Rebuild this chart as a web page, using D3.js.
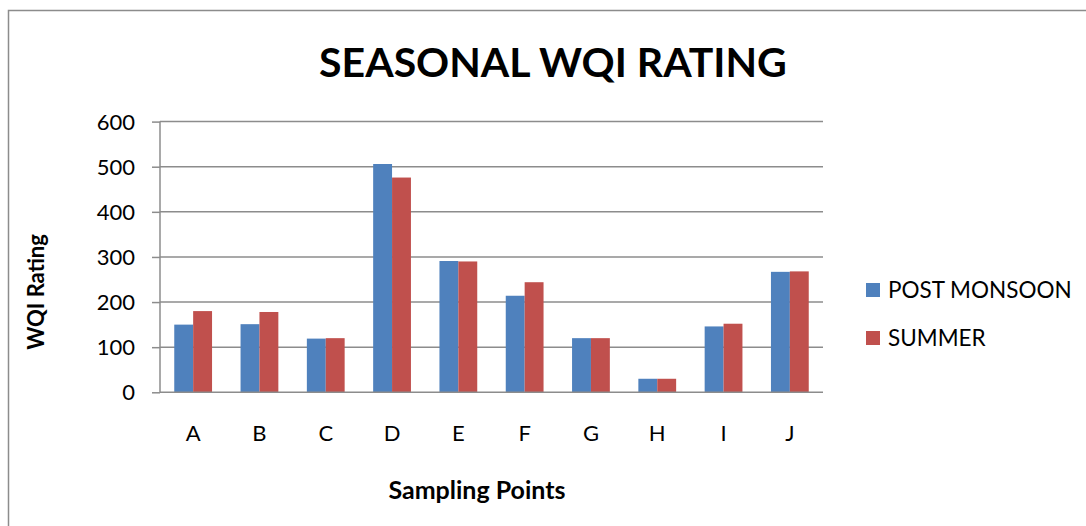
<!DOCTYPE html>
<html><head><meta charset="utf-8">
<script src="https://cdn.jsdelivr.net/npm/d3@7"></script>
<style>body{margin:0;background:#fff}svg{display:block}</style>
</head><body>
<script>
const categories = ["A","B","C","D","E","F","G","H","I","J"];
const seriesNames = ["POST MONSOON","SUMMER"];
const postMonsoon = [150,151,119,506,291,214,120,30,146,267];
const summer = [180,178,120,476,290,244,120,30,152,268];
const yTicks = [0,100,200,300,400,500,600];
const colors = ["#4F81BD","#C0504D"];

const W=1086,H=526;
const svg=d3.select("body").append("svg").attr("width",W).attr("height",H);
svg.append("rect").attr("x",8.5).attr("y",10.5).attr("width",W+10).attr("height",H+10)
  .attr("fill","#fff").attr("stroke","#8c8c8c").attr("stroke-width",1.5);

const font="Lato, 'Open Sans', sans-serif";
const x0=160,x1=823,yTop=121.6,yBot=392.3;
const x=d3.scaleBand().domain(categories).range([x0,x1]).paddingInner(0.43).paddingOuter(0.215);
const xs=d3.scaleBand().domain(seriesNames).range([0,x.bandwidth()]);
const y=d3.scaleLinear().domain([0,600]).range([yBot,yTop]);

// gridlines
svg.append("g").selectAll("line").data(yTicks.slice(1)).join("line")
  .attr("x1",x0).attr("x2",x1).attr("y1",d=>y(d)).attr("y2",d=>y(d))
  .attr("stroke","#8c8c8c").attr("stroke-width",1.5);

const data=[postMonsoon,summer];
seriesNames.forEach((s,i)=>{
  svg.append("g").selectAll("rect").data(categories).join("rect")
    .attr("x",c=>x(c)+xs(s)).attr("width",xs.bandwidth())
    .attr("y",(c,j)=>y(data[i][j])).attr("height",(c,j)=>y(0)-y(data[i][j]))
    .attr("fill",colors[i]);
});

// y axis
const ya=svg.append("g").attr("transform",`translate(${x0},0)`)
  .call(d3.axisLeft(y).tickValues(yTicks).tickSize(8).tickPadding(17));
ya.select(".domain").attr("stroke","#8c8c8c").attr("stroke-width",1.5).attr("d",`M0,${yTop}V${yBot}`);
ya.selectAll(".tick line").attr("stroke","#8c8c8c").attr("stroke-width",1.5);
ya.selectAll(".tick text").attr("font-family",font).attr("font-size",22).attr("fill","#000").attr("dy","0.34em");

// x axis
const xa=svg.append("g").attr("transform",`translate(0,${yBot})`)
  .call(d3.axisBottom(x).tickSize(0).tickPadding(33));
xa.select(".domain").attr("stroke","#8c8c8c").attr("stroke-width",1.5).attr("d",`M${x0},0H${x1}`);
xa.selectAll(".tick text").attr("font-family",font).attr("font-size",22).attr("fill","#000");

// title
svg.append("text").attr("x",553).attr("y",77).attr("text-anchor","middle")
  .attr("font-family",font).attr("font-weight","bold").attr("font-size",41).text("SEASONAL WQI RATING");
svg.append("text").attr("x",477).attr("y",499).attr("text-anchor","middle")
  .attr("font-family",font).attr("font-weight","bold").attr("font-size",25).text("Sampling Points");
svg.append("text").attr("transform","translate(44,292) rotate(-90)").attr("text-anchor","middle")
  .attr("font-family",font).attr("font-weight","bold").attr("font-size",22).text("WQI Rating");

// legend
seriesNames.forEach((s,i)=>{
  const g=svg.append("g").attr("transform",`translate(866,${283+i*48})`);
  g.append("rect").attr("width",14).attr("height",14).attr("fill",colors[i]);
  g.append("text").attr("x",22).attr("y",15).attr("font-family",font).attr("font-size",22.5).text(s);
});
</script>
</body></html>
